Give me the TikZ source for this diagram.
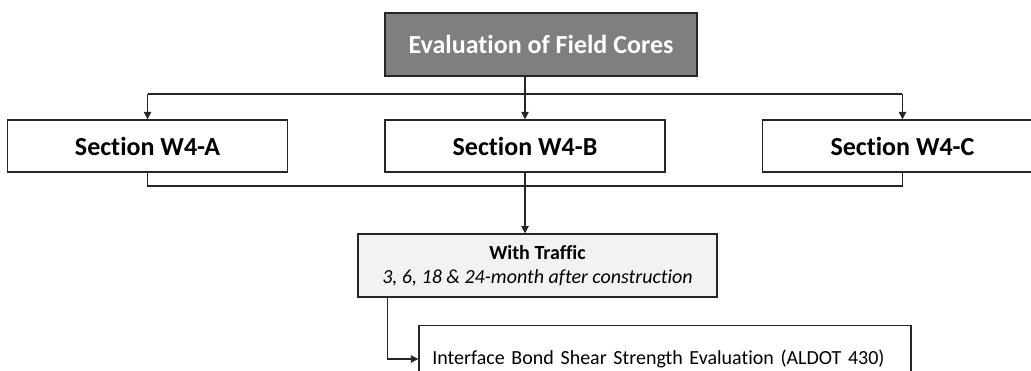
\documentclass[tikz,border=0pt]{standalone}
\usepackage{fontspec}
\setmainfont{Carlito}[Ligatures=NoCommon]
\usepackage{xcolor}
\usepackage{tikz}
\usetikzlibrary{arrows.meta, positioning, calc}

\definecolor{coregray}{HTML}{7F7F7F}
\definecolor{trafficgray}{HTML}{F2F2F2}
\definecolor{edgegray}{HTML}{262626}

\begin{document}
\begin{tikzpicture}[
        x=0.75pt, y=-0.75pt,
        topbox/.style={rectangle, draw=edgegray, line width=1.1pt, fill=coregray, minimum width=234pt, minimum height=47pt, align=center, text=white, font=\fontsize{19.5}{23}\selectfont\bfseries},
        secbox/.style={rectangle, draw=edgegray, line width=1.1pt, fill=white, minimum width=210pt, minimum height=39pt, align=center, font=\fontsize{19.5}{23}\selectfont\bfseries},
        trafficbox/.style={rectangle, draw=edgegray, line width=1.1pt, fill=trafficgray, minimum width=269pt, minimum height=47pt, align=center, font=\fontsize{15}{18}\selectfont},
        testbox/.style={rectangle, draw=edgegray, line width=1.1pt, fill=white, text width=349pt, inner xsep=10pt, minimum height=50pt, align=left, font=\fontsize{15}{18}\selectfont},
        line/.style={draw=edgegray, line width=0.9pt},
        arrow/.style={-{Triangle[width=5.5pt, length=5.5pt]}, draw=edgegray, line width=0.9pt}
    ]
        \clip (0,0) rectangle (1031,371);
        \useasboundingbox (0,0) rectangle (1031,371);

        % Top node
        \node[topbox] (cores) at (541,44.5) {Evaluation of Field Cores};

        % Sections
        \node[secbox] (secB) at (525,146) {Section W4-B};
        \node[secbox, left=72pt of secB] (secA) {Section W4-A};
        \node[secbox, right=72pt of secB] (secC) {Section W4-C};

        % Traffic and test
        \node[trafficbox] (traffic) at (537.5,265.5) {\textbf{With Traffic}\\\textit{3, 6, 18 \& 24-month after construction}};
        \node[testbox] (ifb) at (665,359) {Interface Bond Shear Strength Evaluation (ALDOT 430)};

        % Bus lines
        \coordinate (busT) at (525,94);
        \coordinate (busB) at (525,186);

        % Connections from top
        \draw[line] (cores.south -| secB) -- (busT);
        \draw[line] (busT -| secA) -- (busT -| secC);
        \draw[arrow] (busT -| secA) -- (secA.north);
        \draw[arrow] (busT) -- (secB.north);
        \draw[arrow] (busT -| secC) -- (secC.north);

        % Connections to traffic
        \draw[line] (secA.south) |- (busB) -| (secC.south);
        \draw[line] (secB.south) -- (busB);
        \draw[arrow] (busB) -- (traffic.north -| busB);

        % Traffic to test
        \draw[arrow] ([xshift=22.5pt]traffic.south west) |- (ifb.west);

    \end{tikzpicture}
\end{document}
